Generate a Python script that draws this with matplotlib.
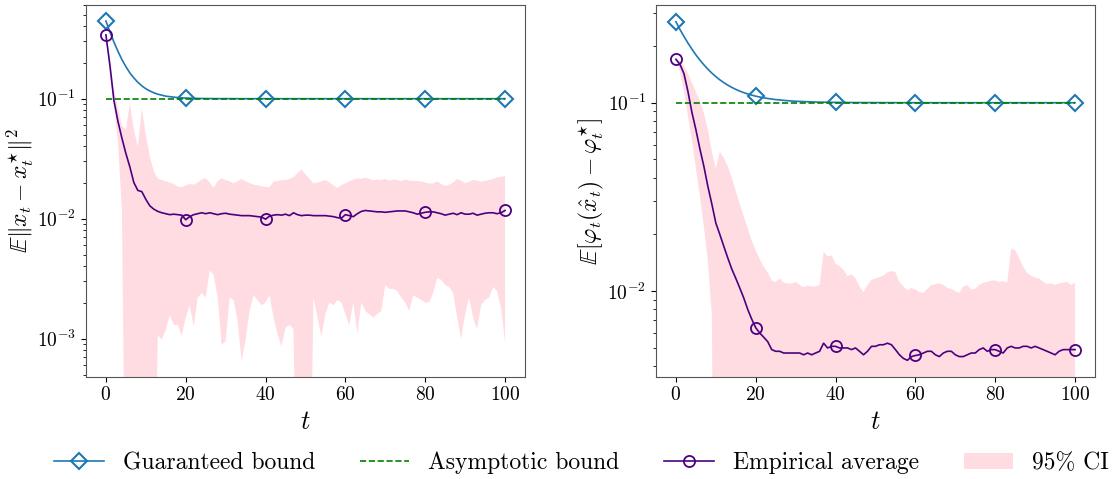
import numpy as np
import matplotlib
matplotlib.use("Agg")
import matplotlib.pyplot as plt
from matplotlib.ticker import NullFormatter

plt.rcParams["font.family"] = "cmr10"
plt.rcParams["mathtext.fontset"] = "cm"
plt.rcParams["axes.formatter.use_mathtext"] = True

OFF = 1e-5  # CI lower bound below the visible range

t = np.arange(0, 101)

# guaranteed bound (sampled densely where it bends)
t_bound = [0, 1, 2, 3, 4, 5, 6, 7, 8, 9, 10, 11, 12, 13, 14, 15, 16, 17, 18, 19,
           20, 21, 22, 23, 24, 25, 26, 27, 28, 29, 30, 35, 40, 45, 50, 60, 70, 80, 90, 100]
guar_left = [0.444, 0.360, 0.297, 0.249, 0.212, 0.185, 0.164, 0.149, 0.137, 0.128,
             0.121, 0.116, 0.112, 0.109, 0.107, 0.105, 0.104, 0.103, 0.1022, 0.1017,
             0.1013, 0.1010, 0.1007, 0.1005, 0.1004, 0.1003, 0.1002, 0.1002, 0.1001, 0.1001,
             0.1001, 0.1, 0.1, 0.1, 0.1, 0.1, 0.1, 0.1, 0.1, 0.1]
guar_right = [0.269, 0.245, 0.225, 0.2075, 0.1925, 0.1795, 0.1684, 0.1589, 0.1507, 0.1436,
              0.1375, 0.1323, 0.1278, 0.1239, 0.1206, 0.1177, 0.1152, 0.1131, 0.1113, 0.1097,
              0.1083, 0.1072, 0.1062, 0.1053, 0.1046, 0.1039, 0.1034, 0.1029, 0.1025, 0.1021,
              0.1018, 0.1008, 0.1004, 0.1002, 0.1001, 0.1, 0.1, 0.1, 0.1, 0.1]

t_asym = [0, 100]
asym_left = [0.1, 0.1]
asym_right = [0.1, 0.1]

# left panel: E||x_t - x_t*||^2
emp_left = [0.34, 0.19, 0.097, 0.065, 0.047, 0.035, 0.027, 0.020, 0.0172, 0.0168,
            0.0145, 0.0128, 0.0120, 0.0115, 0.0112, 0.0110, 0.0108, 0.0109, 0.0108, 0.0107,
            0.0098, 0.0104, 0.0108, 0.0110, 0.0112, 0.0110, 0.0112, 0.0110, 0.0108, 0.0110,
            0.0111, 0.0109, 0.0108, 0.0107, 0.0106, 0.0106, 0.0106, 0.0105, 0.0104, 0.0103,
            0.0099, 0.0105, 0.0107, 0.0108, 0.0107, 0.0109, 0.0106, 0.0112, 0.0108, 0.0106,
            0.0107, 0.0107, 0.0106, 0.0106, 0.0106, 0.0106, 0.0105, 0.0104, 0.0102, 0.0101,
            0.0108, 0.0106, 0.0104, 0.0110, 0.0115, 0.0117, 0.0116, 0.0115, 0.0114, 0.0114,
            0.0113, 0.0114, 0.0115, 0.0116, 0.0116, 0.0116, 0.0114, 0.0112, 0.0109, 0.0111,
            0.0113, 0.0114, 0.0114, 0.0112, 0.0110, 0.0107, 0.0109, 0.0111, 0.0108, 0.0112,
            0.0109, 0.0109, 0.0111, 0.0107, 0.0109, 0.0111, 0.0112, 0.0112, 0.0110, 0.0112,
            0.0117]
ci_hi_left = [0.34, 0.22, 0.12, 0.085, 0.060, 0.055, 0.092, 0.055, 0.040, 0.083,
              0.050, 0.033, 0.025, 0.0215, 0.0210, 0.0205, 0.0200, 0.0195, 0.0185, 0.0183,
              0.0190, 0.0195, 0.0192, 0.0200, 0.0212, 0.0217, 0.0200, 0.0181, 0.0205, 0.0217,
              0.0210, 0.0205, 0.0197, 0.0205, 0.0214, 0.0205, 0.0198, 0.0192, 0.0190, 0.0186,
              0.0184, 0.0183, 0.0204, 0.0206, 0.0210, 0.0210, 0.0215, 0.0222, 0.0240, 0.0258,
              0.0235, 0.0215, 0.0197, 0.0200, 0.0205, 0.0210, 0.0200, 0.0190, 0.0180, 0.0190,
              0.0197, 0.0205, 0.0212, 0.0217, 0.0215, 0.0220, 0.0214, 0.0210, 0.0212, 0.0210,
              0.0214, 0.0208, 0.0212, 0.0210, 0.0205, 0.0212, 0.0208, 0.0206, 0.0206, 0.0204,
              0.0200, 0.0196, 0.0197, 0.0205, 0.0195, 0.0188, 0.0192, 0.0200, 0.0214, 0.0207,
              0.0197, 0.0203, 0.0210, 0.0208, 0.0203, 0.0206, 0.0210, 0.0214, 0.0221, 0.0224,
              0.0227]
ci_lo_left = [0.34, 0.17, 0.09, 0.045, 0.012, OFF, OFF, OFF, OFF, OFF,
              OFF, OFF, OFF, 0.00107, 0.00098, 0.00118, 0.00157, 0.0013, 0.0013, 0.00106,
              0.0015, 0.0019, 0.00126, 0.0022, 0.0024, 0.0022, 0.0037, 0.0034, 0.0022, 0.00089,
              0.00095, 0.0022, 0.0021, 0.0014, 0.00065, 0.00098, 0.0017, 0.0023, 0.0021, 0.0019,
              0.0020, 0.0023, 0.0015, 0.0011, 0.00086, 0.00123, 0.0013, 0.0012, OFF, OFF,
              OFF, OFF, 0.0022, 0.0015, 0.00104, 0.0016, 0.0020, 0.0019, 0.0021, 0.0020,
              0.0016, 0.0013, 0.0020, 0.0011, 0.0020, 0.0017, 0.0016, 0.0015, 0.0016, 0.0017,
              0.0028, 0.0026, 0.0026, 0.0025, 0.0022, 0.0020, 0.0017, 0.0023, 0.0022, 0.0021,
              0.0020, 0.0020, 0.0024, 0.0032, 0.0031, 0.0028, 0.0027, 0.0024, 0.0015, 0.0010,
              0.0016, 0.0022, 0.0015, 0.0012, 0.0019, 0.0021, 0.0022, 0.0027, 0.0025, 0.0018,
              0.00094]

# right panel: E[phi_t(x_hat_t) - phi_t*]
emp_right = [0.170, 0.160, 0.143, 0.115, 0.089, 0.072, 0.057, 0.046, 0.036, 0.029,
             0.023, 0.020, 0.0173, 0.0150, 0.0131, 0.0117, 0.0104, 0.0092, 0.0080, 0.0071,
             0.0064, 0.0060, 0.0057, 0.0054, 0.0049, 0.0048, 0.0048, 0.0047, 0.0047, 0.0047,
             0.0047, 0.0047, 0.0046, 0.0047, 0.0046, 0.0047, 0.0048, 0.0053, 0.0050, 0.0051,
             0.0051, 0.0050, 0.0050, 0.0050, 0.0049, 0.0050, 0.0048, 0.0046, 0.0048, 0.0051,
             0.0051, 0.0052, 0.0052, 0.0053, 0.0052, 0.0049, 0.0046, 0.0044, 0.0043, 0.0045,
             0.00456, 0.0046, 0.0047, 0.0048, 0.0048, 0.0046, 0.0045, 0.0047, 0.0048, 0.0048,
             0.0046, 0.0045, 0.0045, 0.0046, 0.0047, 0.0047, 0.0049, 0.0050, 0.0048, 0.0049,
             0.0049, 0.0048, 0.0047, 0.0050, 0.0051, 0.0050, 0.0050, 0.0051, 0.0051, 0.0050,
             0.0051, 0.0050, 0.0049, 0.0048, 0.0047, 0.0046, 0.0048, 0.0049, 0.0049, 0.0049,
             0.0049]
ci_hi_right = [0.170, 0.166, 0.157, 0.143, 0.128, 0.114, 0.102, 0.088, 0.072, 0.055,
               0.045, 0.055, 0.051, 0.046, 0.040, 0.034, 0.029, 0.025, 0.0215, 0.0185,
               0.0165, 0.0148, 0.0135, 0.0126, 0.0114, 0.0112, 0.0117, 0.0111, 0.0110, 0.0110,
               0.0112, 0.0108, 0.0105, 0.0107, 0.0106, 0.0106, 0.0108, 0.0162, 0.0153, 0.0155,
               0.0140, 0.0136, 0.0130, 0.0120, 0.0123, 0.0117, 0.0106, 0.0099, 0.0108, 0.0115,
               0.0117, 0.0119, 0.0121, 0.0126, 0.0128, 0.0126, 0.0112, 0.0106, 0.0101, 0.0104,
               0.0102, 0.0099, 0.0098, 0.0103, 0.0108, 0.0109, 0.0110, 0.0108, 0.0104, 0.0103,
               0.0100, 0.0098, 0.0106, 0.0108, 0.0102, 0.0103, 0.0108, 0.0111, 0.0112, 0.0114,
               0.0114, 0.0112, 0.0113, 0.0111, 0.0169, 0.0165, 0.0150, 0.0135, 0.0125, 0.0121,
               0.0118, 0.0117, 0.0112, 0.0109, 0.0110, 0.0108, 0.0110, 0.0111, 0.0112, 0.0108,
               0.0111]
ci_lo_right = [0.170, 0.146, 0.115, 0.085, 0.063, 0.045, 0.032, 0.022, 0.0145, 0.0075] + [OFF] * 91

panels = [
    (guar_left, emp_left, ci_lo_left, ci_hi_left, asym_left,
     r"$\mathbb{E}\|x_t - x_t^{\star}\|^2$", (4.82e-4, 0.604)),
    (guar_right, emp_right, ci_lo_right, ci_hi_right, asym_right,
     r"$\mathbb{E}[\varphi_t(\hat{x}_t) - \varphi_t^{\star}]$", (3.52e-3, 0.33)),
]

fig = plt.figure(figsize=(11.12, 4.79), dpi=100)
ax_l = fig.add_axes([0.0773, 0.2136, 0.3948, 0.776])
ax_r = fig.add_axes([0.5899, 0.2136, 0.3948, 0.776])

mark_idx = [t_bound.index(v) for v in [0, 20, 40, 60, 80, 100]]

for ax, (guar, emp, lo, hi, asym, ylab, ylim) in zip([ax_l, ax_r], panels):
    ax.set_yscale("log")
    ax.plot(t_bound, guar, color="tab:blue", lw=1.2, marker="D", ms=8,
            mfc="none", mew=1.5, markevery=mark_idx, label="Guaranteed bound", zorder=3)
    ax.plot(t_asym, asym, color="green", ls="--", lw=1.2, label="Asymptotic bound", zorder=4)
    ax.plot(t, emp, color="indigo", lw=1.2, marker="o", ms=8, mfc="none", mew=1.3,
            markevery=20, label="Empirical average", zorder=5)
    ax.fill_between(t, lo, hi, color="pink", alpha=0.55, lw=0, label="95% CI", zorder=1)
    ax.set_xlim(-5, 105)
    ax.set_ylim(*ylim)
    ax.set_xticks([0, 20, 40, 60, 80, 100])
    ax.yaxis.set_minor_formatter(NullFormatter())
    ax.tick_params(labelsize=14)
    ax.set_xlabel(r"$t$", fontsize=19, labelpad=4)
    ax.set_ylabel(ylab, fontsize=17, labelpad=1)
    for sp in ax.spines.values():
        sp.set_color("#555555")

handles, labels = ax_l.get_legend_handles_labels()
fig.legend(handles, labels, loc="center", bbox_to_anchor=(0.523, 0.033), ncol=4,
           frameon=False, fontsize=17, handlelength=2.1, handletextpad=0.8,
           columnspacing=1.9)

fig.savefig("out.png", dpi=100)
